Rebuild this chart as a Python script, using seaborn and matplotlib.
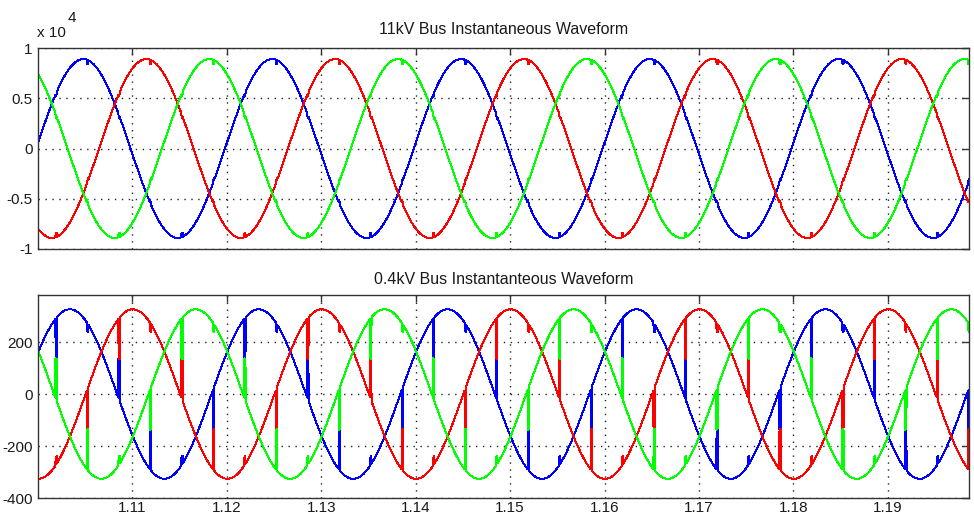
import numpy as np
import pandas as pd
import matplotlib
matplotlib.use("Agg")
import matplotlib.pyplot as plt
import seaborn as sns

# ---------------- values ----------------
phase_names = ["Phase A", "Phase B", "Phase C"]
phase_colors = ["#0000ff", "#ff0000", "#00ff00"]          # blue, red, green
hv_peak = 8900.0                                           # 11 kV bus peak (V)
lv_peak = 326.0                                            # 0.4 kV bus peak (V)
hv_peak_times = [1.10480, 1.11147, 1.11813]                # first positive peak of each phase
lv_peak_times = [1.10338, 1.11005, 1.11671]
period = 0.02                                              # 50 Hz
commutation_first = 1.10185                                # first commutation notch
commutation_pairs = [(0, 2), (1, 2), (0, 1)]               # phases notched together (repeats)
notch_width = 0.00013                                      # s
hv_notch_depth = 400.0                                     # V, reflected notch on 11 kV bus
lv_hook_depth = 30.0                                       # V, small hook on the third phase
t_start, t_end = 1.1, 1.1986

x_ticks = [1.11, 1.12, 1.13, 1.14, 1.15, 1.16, 1.17, 1.18, 1.19]
x_ticklabels = ["1.11", "1.12", "1.13", "1.14", "1.15", "1.16", "1.17", "1.18", "1.19"]
hv_yticks = [-1.0, -0.5, 0.0, 0.5, 1.0]
hv_yticklabels = ["-1", "-0.5", "0", "0.5", "1"]
lv_yticks = [-400, -200, 0, 200]
lv_yticklabels = ["-400", "-200", "0", "200"]
hv_title = "11kV Bus Instantaneous Waveform"
lv_title = "0.4kV Bus Instantanteous Waveform"
hv_scale_label = "x 10"
hv_scale_exp = "4"

# ---------------- build the waveforms ----------------
t = np.arange(t_start, t_end, 5e-6)
w = 2 * np.pi / period
hv = np.array([hv_peak * np.cos(w * (t - tp)) for tp in hv_peak_times])
lv = np.array([lv_peak * np.cos(w * (t - tp)) for tp in lv_peak_times])
hv_out = hv.copy()
lv_out = lv.copy()

k = 0
tc = commutation_first - period / 6 * 3
while tc < t_end + period:
    i, j = commutation_pairs[k % 3]
    third = 3 - i - j
    m = (t >= tc) & (t < tc + notch_width)
    if m.any():
        avg = 0.5 * (lv[i, m] + lv[j, m])
        lv_out[i, m] = avg
        lv_out[j, m] = avg
        lv_out[third, m] -= np.sign(lv[third, m]) * lv_hook_depth
        # reflected notch on the 11 kV side
        idx = np.argmax(np.abs(hv[:, m]).mean(axis=1))
        s = np.sign(hv[idx, m])
        for p in range(3):
            if p == idx:
                hv_out[p, m] -= s * hv_notch_depth
            else:
                hv_out[p, m] += s * hv_notch_depth / 2
    tc += period / 6
    k += 1

def frame(vals):
    return pd.concat([pd.DataFrame({"t": t, "v": vals[p], "phase": phase_names[p]})
                      for p in range(3)], ignore_index=True)

df_hv = frame(hv_out / 1e4)
df_lv = frame(lv_out)

# ---------------- draw ----------------
sns.set_theme(style="white")
plt.rcParams["font.family"] = ["Liberation Sans", "DejaVu Sans"]
plt.rcParams["axes.unicode_minus"] = False

W, H = 974, 524
fig = plt.figure(figsize=(W / 100, H / 100), dpi=100)
fig.patch.set_facecolor("white")

def px_axes(l, r, top, bot):
    return fig.add_axes([l / W, 1 - bot / H, (r - l) / W, (bot - top) / H])

ax1 = px_axes(38, 969, 48, 249)
ax2 = px_axes(38, 969, 295, 498)

palette = dict(zip(phase_names, phase_colors))
for ax, df in ((ax1, df_hv), (ax2, df_lv)):
    sns.lineplot(data=df, x="t", y="v", hue="phase", palette=palette, legend=False,
                 estimator=None, sort=False, linewidth=0.7, ax=ax, antialiased=False)

for ax in (ax1, ax2):
    ax.set_xlim(t_start, t_end)
    ax.set_xticks(x_ticks)
    ax.set_xlabel("")
    ax.set_ylabel("")
    ax.set_facecolor("white")
    ax.grid(True, color="#222222", linestyle=(0, (1, 4)), linewidth=1.0)
    ax.tick_params(direction="in", top=True, right=True, length=5, width=1,
                   color="#333333", labelsize=11, labelcolor="#1a1a1a")
    ax.tick_params(axis="x", pad=2)
    ax.tick_params(axis="y", pad=4)
    for sp in ax.spines.values():
        sp.set_visible(True)
        sp.set_color("#333333")
        sp.set_linewidth(1.0)

ax1.set_ylim(-1, 1)
ax1.set_yticks(hv_yticks)
ax1.set_yticklabels(hv_yticklabels)
ax1.set_xticklabels([])

ax2.set_ylim(-400, 381)
ax2.set_yticks(lv_yticks)
ax2.set_yticklabels(lv_yticklabels)
ax2.set_xticklabels(x_ticklabels)

fig.text(503.5 / W, 1 - 30 / H, hv_title, ha="center", va="center", fontsize=11.5, color="#1a1a1a")
fig.text(503.5 / W, 1 - 279 / H, lv_title, ha="center", va="center", fontsize=11.5, color="#1a1a1a")
fig.text(37 / W, 1 - 37 / H, hv_scale_label, ha="left", va="baseline", fontsize=11, color="#1a1a1a")
fig.text(68 / W, 1 - 22 / H, hv_scale_exp, ha="left", va="baseline", fontsize=11, color="#1a1a1a")

fig.savefig("out.png", dpi=100, facecolor="white")
